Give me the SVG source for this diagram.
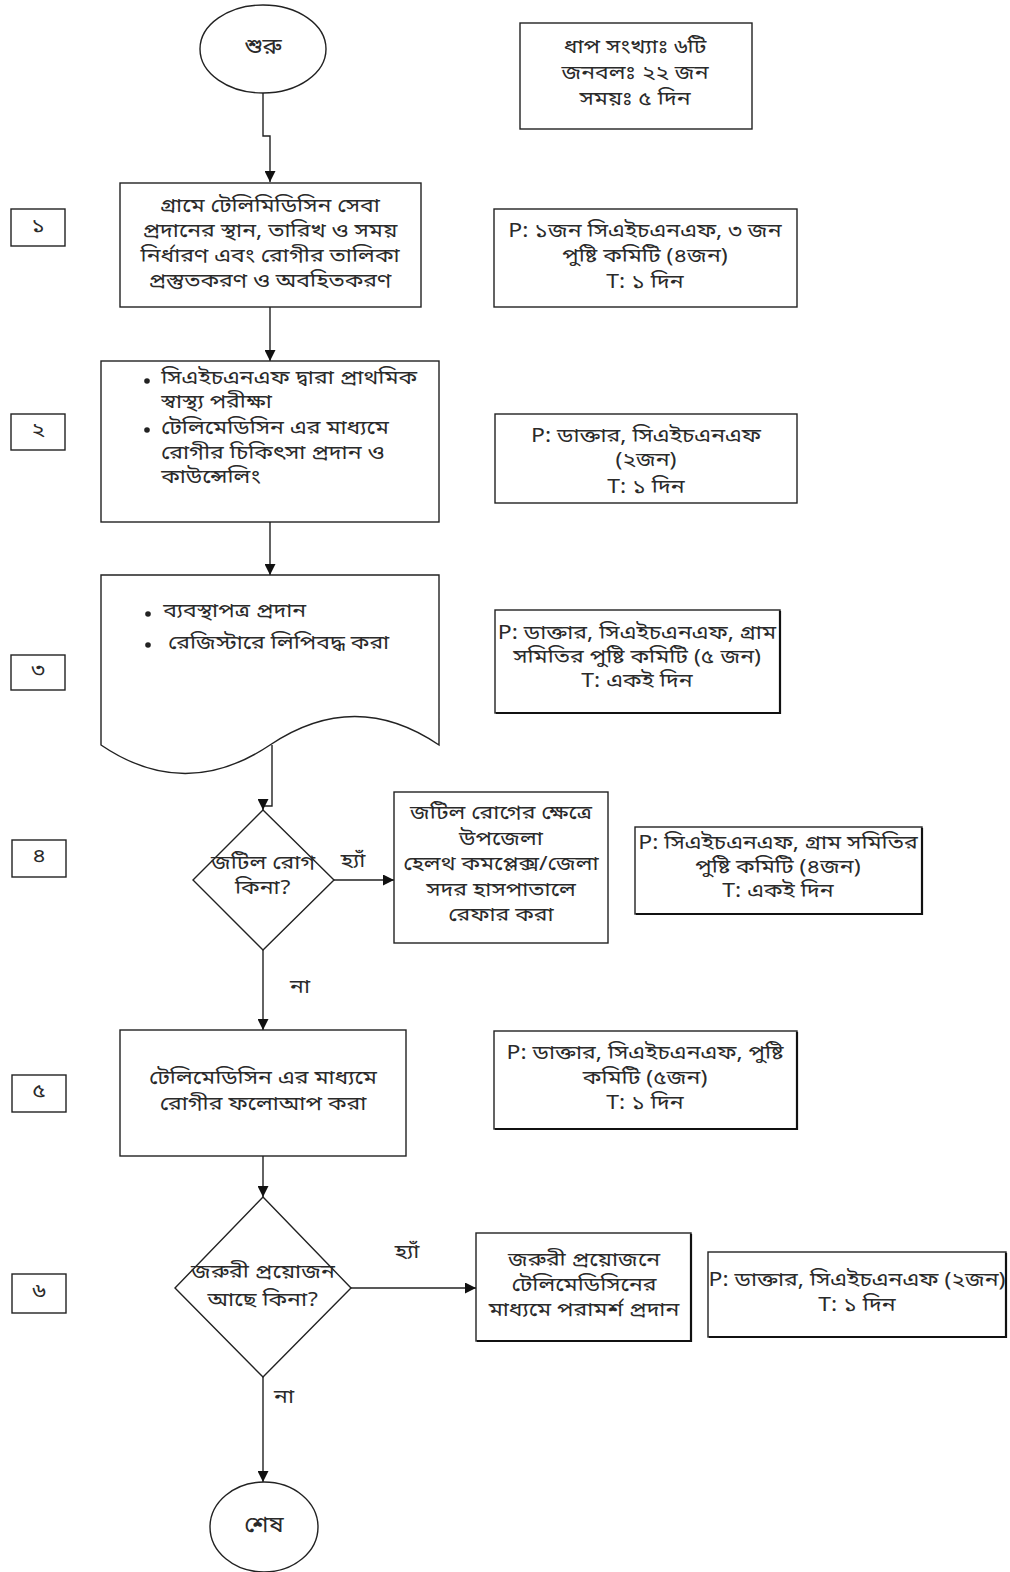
<svg xmlns="http://www.w3.org/2000/svg" width="1010" height="1572" viewBox="0 0 1010 1572">
<style>
text{font-family:"Noto Sans Bengali","Noto Sans","DejaVu Sans",sans-serif;font-size:19.5px;fill:#2a2a2a;text-anchor:middle;dominant-baseline:middle;transform-box:fill-box;transform-origin:center;transform:scaleX(1.18)}
.s{fill:#fff;stroke:#222;stroke-width:1.4}
.sh{fill:none;stroke:#111;stroke-width:2.2}
.c{fill:none;stroke:#222;stroke-width:1.4}
text.l{text-anchor:start;transform-origin:left center}
text.big{font-size:22px;transform:scaleX(1.1)}
</style>
<defs>
<marker id="ah" viewBox="0 0 10 10" refX="10" refY="5" markerWidth="12" markerHeight="11" markerUnits="userSpaceOnUse" orient="auto">
<path d="M0,0 L10,5 L0,10 z" fill="#111"/>
</marker>
</defs>

<g id="connectors">
<path class="c" d="M263,93 V136 H270 V182" marker-end="url(#ah)"/>
<path class="c" d="M270,307 V361" marker-end="url(#ah)"/>
<path class="c" d="M270,522 V575" marker-end="url(#ah)"/>
<path class="c" d="M272,745 V806 H263 V810" marker-end="url(#ah)"/>
<path class="c" d="M334,880 H394" marker-end="url(#ah)"/>
<path class="c" d="M263,950 V1030" marker-end="url(#ah)"/>
<path class="c" d="M263,1156 V1197" marker-end="url(#ah)"/>
<path class="c" d="M351,1288 H476" marker-end="url(#ah)"/>
<path class="c" d="M263,1377 V1482" marker-end="url(#ah)"/>
<text x="353" y="862">হ্যাঁ</text>
<text x="300" y="988">না</text>
<text x="407" y="1253">হ্যাঁ</text>
<text x="284" y="1398">না</text>
</g>

<g id="start">
<ellipse class="s" cx="263" cy="49" rx="63" ry="44"/>
<text class="big" x="263" y="48">শুরু</text>
</g>

<g id="summary">
<rect class="s" x="520" y="23" width="232" height="106"/>
<text x="635" y="48">ধাপ সংখ্যাঃ  ৬টি</text>
<text x="635" y="74">জনবলঃ ২২ জন</text>
<text x="635" y="100">সময়ঃ ৫ দিন</text>
</g>

<g id="label1">
<rect class="s" x="11" y="209" width="54" height="37"/>
<text x="38" y="227">১</text>
</g>
<g id="step1">
<rect class="s" x="120" y="183" width="301" height="124"/>
<text x="270" y="207">গ্রামে টেলিমিডিসিন সেবা</text>
<text x="270" y="232">প্রদানের স্থান, তারিখ ও সময়</text>
<text x="270" y="257">নির্ধারণ এবং রোগীর তালিকা</text>
<text x="270" y="282">প্রস্তুতকরণ ও অবহিতকরণ</text>
</g>
<g id="res1">
<rect class="s" x="494" y="209" width="303" height="98"/>
<text x="645" y="232">P: ১জন সিএইচএনএফ, ৩ জন</text>
<text x="645" y="257">পুষ্টি কমিটি (৪জন)</text>
<text x="645" y="283">T: ১ দিন</text>
</g>

<g id="label2">
<rect class="s" x="11" y="414" width="54" height="36"/>
<text x="38" y="431">২</text>
</g>
<g id="step2">
<rect class="s" x="101" y="361" width="338" height="161"/>
<circle cx="147" cy="381" r="2.8" fill="#222"/>
<circle cx="147" cy="430" r="2.8" fill="#222"/>
<text class="l" x="161" y="379">সিএইচএনএফ দ্বারা প্রাথমিক</text>
<text class="l" x="161" y="403">স্বাস্থ্য পরীক্ষা</text>
<text class="l" x="161" y="429">টেলিমেডিসিন এর মাধ্যমে</text>
<text class="l" x="161" y="454">রোগীর চিকিৎসা প্রদান ও</text>
<text class="l" x="161" y="478">কাউন্সেলিং</text>
</g>
<g id="res2">
<rect class="s" x="495" y="414" width="302" height="89"/>
<text x="646" y="437">P: ডাক্তার, সিএইচএনএফ</text>
<text x="646" y="461">(২জন)</text>
<text x="646" y="488">T: ১ দিন</text>
</g>

<g id="label3">
<rect class="s" x="11" y="655" width="54" height="35"/>
<text x="38" y="671">৩</text>
</g>
<g id="step3">
<path class="s" d="M101,575 H439 V745 Q355,688 270,745 T101,745 Z"/>
<circle cx="148" cy="614" r="2.8" fill="#222"/>
<circle cx="148" cy="645" r="2.8" fill="#222"/>
<text class="l" x="163" y="612">ব্যবস্থাপত্র প্রদান</text>
<text class="l" x="168" y="644">রেজিস্টারে লিপিবদ্ধ করা</text>
</g>
<g id="res3">
<rect class="s" x="495" y="610" width="285" height="103"/>
<path class="sh" d="M496,713 H780 V611"/>
<text x="637" y="634">P: ডাক্তার, সিএইচএনএফ, গ্রাম</text>
<text x="637" y="658">সমিতির পুষ্টি কমিটি (৫ জন)</text>
<text x="637" y="682">T: একই দিন</text>
</g>

<g id="label4">
<rect class="s" x="12" y="840" width="54" height="37"/>
<text x="39" y="857">৪</text>
</g>
<g id="decision1">
<path class="s" d="M263,810 L334,880 L263,950 L193,880 Z"/>
<text x="263" y="864">জটিল রোগ</text>
<text x="263" y="889">কিনা?</text>
</g>
<g id="refer">
<rect class="s" x="394" y="792" width="214" height="151"/>
<text x="501" y="814">জটিল রোগের ক্ষেত্রে</text>
<text x="501" y="840">উপজেলা</text>
<text x="501" y="865">হেলথ কমপ্লেক্স/জেলা</text>
<text x="501" y="891">সদর হাসপাতালে</text>
<text x="501" y="916">রেফার করা</text>
</g>
<g id="res4">
<rect class="s" x="635" y="827" width="287" height="87"/>
<path class="sh" d="M636,914 H922 V828"/>
<text x="778" y="844">P: সিএইচএনএফ, গ্রাম সমিতির</text>
<text x="778" y="868">পুষ্টি কমিটি (৪জন)</text>
<text x="778" y="892">T: একই দিন</text>
</g>

<g id="label5">
<rect class="s" x="12" y="1075" width="54" height="37"/>
<text x="39" y="1092">৫</text>
</g>
<g id="step5">
<rect class="s" x="120" y="1030" width="286" height="126"/>
<text x="263" y="1079">টেলিমেডিসিন এর মাধ্যমে</text>
<text x="263" y="1105">রোগীর ফলোআপ করা</text>
</g>
<g id="res5">
<rect class="s" x="494" y="1031" width="303" height="98"/>
<path class="sh" d="M495,1129 H797 V1032"/>
<text x="645" y="1054">P: ডাক্তার, সিএইচএনএফ, পুষ্টি</text>
<text x="645" y="1079">কমিটি (৫জন)</text>
<text x="645" y="1104">T: ১ দিন</text>
</g>

<g id="label6">
<rect class="s" x="12" y="1274" width="54" height="39"/>
<text x="39" y="1292">৬</text>
</g>
<g id="decision2">
<path class="s" d="M263,1197 L351,1288 L263,1377 L175,1288 Z"/>
<text x="263" y="1273">জরুরী প্রয়োজন</text>
<text x="263" y="1301">আছে কিনা?</text>
</g>
<g id="advice">
<rect class="s" x="476" y="1233" width="215" height="108"/>
<path class="sh" d="M477,1341 H691 V1234"/>
<text x="584" y="1261">জরুরী প্রয়োজনে</text>
<text x="584" y="1286">টেলিমেডিসিনের</text>
<text x="584" y="1311">মাধ্যমে পরামর্শ প্রদান</text>
</g>
<g id="res6">
<rect class="s" x="708" y="1252" width="298" height="85"/>
<path class="sh" d="M709,1337 H1006 V1253"/>
<text x="857" y="1281">P: ডাক্তার, সিএইচএনএফ (২জন)</text>
<text x="857" y="1306">T: ১ দিন</text>
</g>

<g id="end">
<ellipse class="s" cx="264" cy="1527" rx="54" ry="45"/>
<text class="big" x="264" y="1526">শেষ</text>
</g>
</svg>
